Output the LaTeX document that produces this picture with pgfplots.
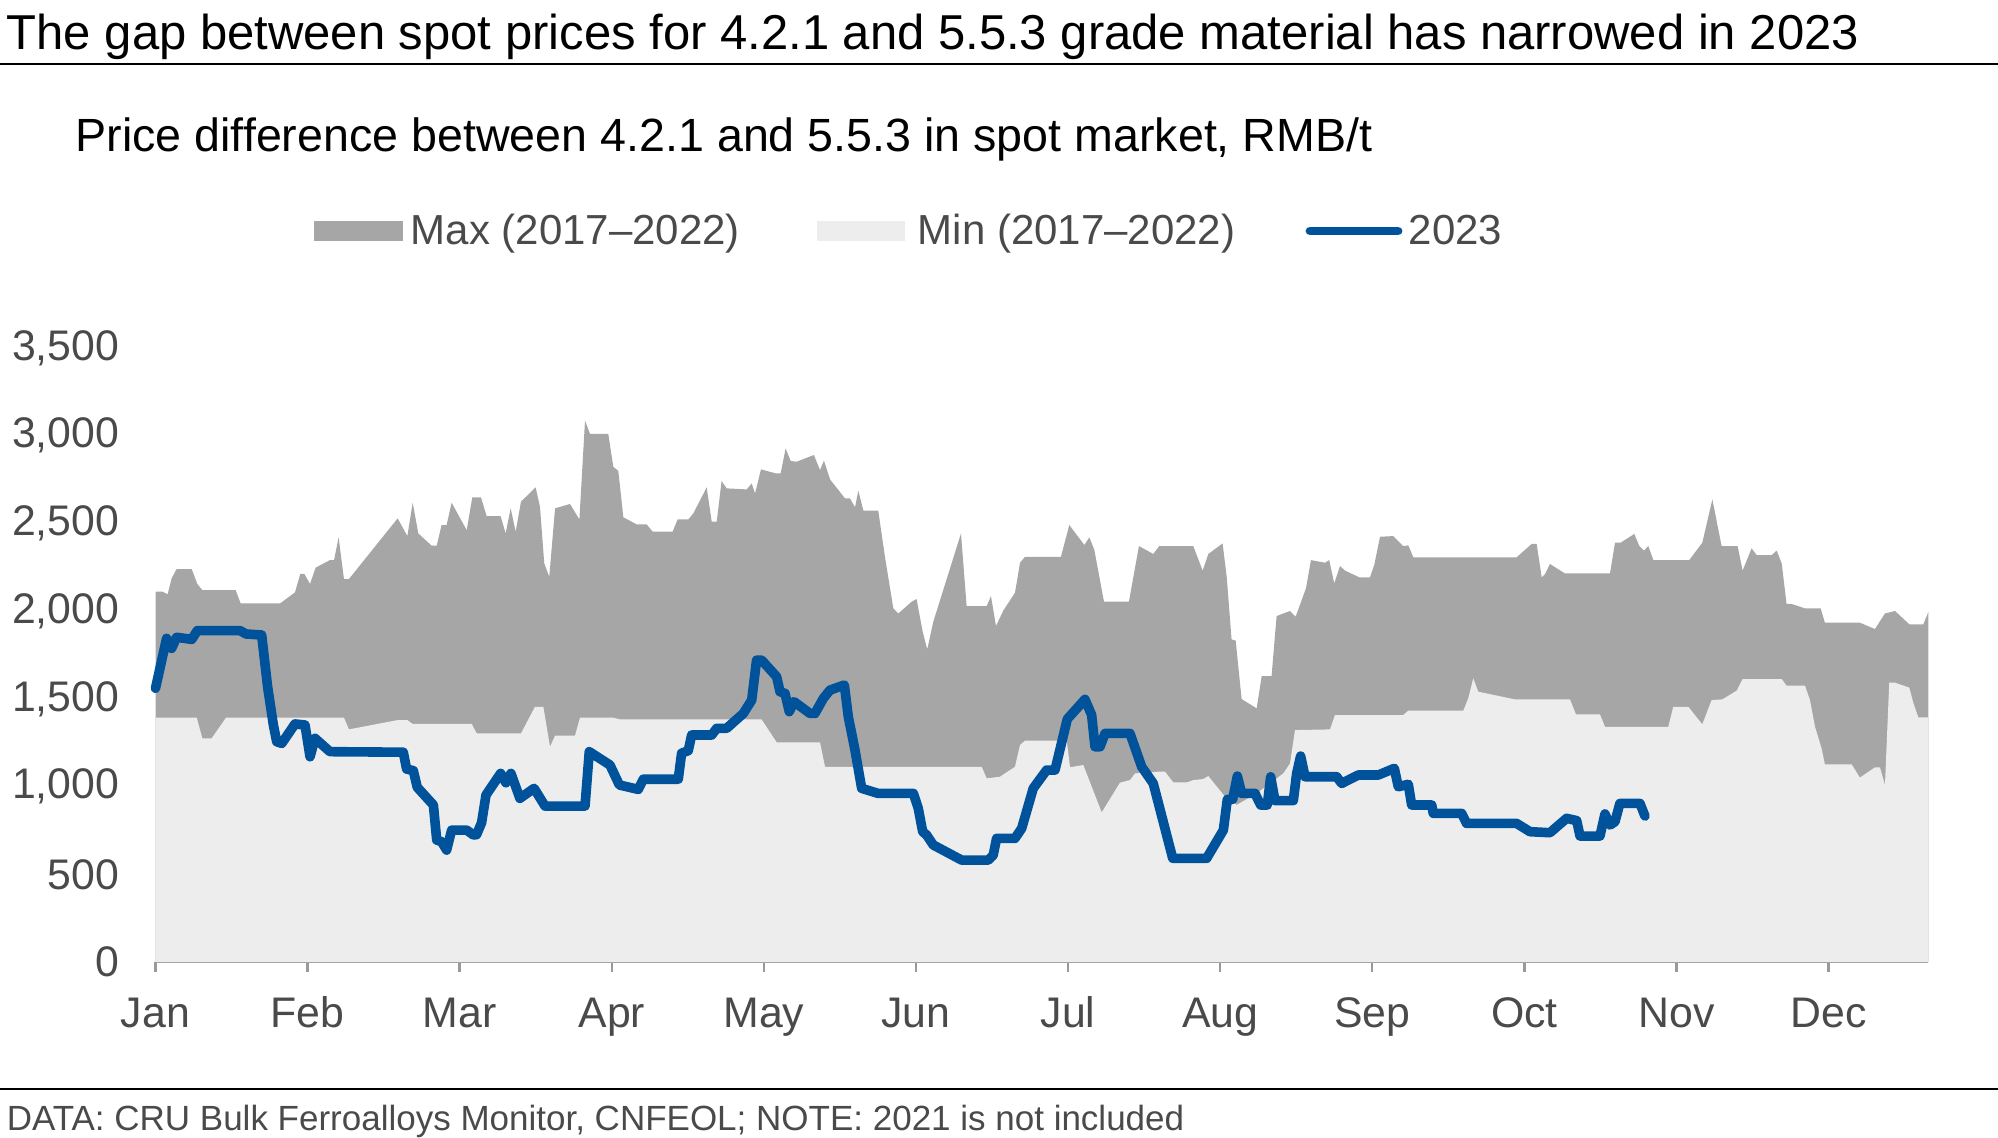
\documentclass[border=0pt]{standalone}
\usepackage{pgfplots}
\pgfplotsset{compat=1.18}
\usepackage{fontspec}
\setmainfont{Liberation Sans}
\definecolor{maxgray}{HTML}{A6A6A6}
\definecolor{mingray}{HTML}{EDEDED}
\definecolor{blue23}{HTML}{00529B}
\definecolor{txtgray}{HTML}{4A4A4A}
\definecolor{axgray}{HTML}{999999}
\begin{document}
\begin{tikzpicture}
\useasboundingbox (0pt,0pt) rectangle (499.5pt,284.25pt);
% title and subtitle
\node[anchor=base west, inner sep=0pt] at (1.5pt,271.9pt) {\fontsize{12.25}{14}\selectfont The gap between spot prices for 4.2.1 and 5.5.3 grade material has narrowed in 2023};
\draw[black, line width=0.7pt] (0pt,268.25pt) -- (499.5pt,268.25pt);
\node[anchor=base west, inner sep=0pt] at (18.7pt,246.25pt) {\fontsize{11.65}{14}\selectfont Price difference between 4.2.1 and 5.5.3 in spot market, RMB/t};
% legend
\fill[maxgray] (78.5pt,224pt) rectangle (100.75pt,229pt);
\node[anchor=base west, inner sep=0pt, text=txtgray] at (102.5pt,223pt) {\fontsize{10.5}{12}\selectfont Max (2017–2022)};
\fill[mingray] (204.25pt,224pt) rectangle (226.25pt,229pt);
\node[anchor=base west, inner sep=0pt, text=txtgray] at (229.25pt,223pt) {\fontsize{10.5}{12}\selectfont Min (2017–2022)};
\draw[blue23, line width=2.2pt, line cap=round] (327.5pt,226.5pt) -- (349.5pt,226.5pt);
\node[anchor=base west, inner sep=0pt, text=txtgray] at (352pt,223pt) {\fontsize{10.5}{12}\selectfont 2023};
% footer
\draw[black, line width=0.5pt] (0pt,12pt) -- (499.5pt,12pt);
\node[anchor=base west, inner sep=0pt, text=txtgray] at (1.5pt,1.75pt) {\fontsize{8.75}{10}\selectfont DATA: CRU Bulk Ferroalloys Monitor, CNFEOL; NOTE: 2021 is not included};
\begin{axis}[
  at={(38.875pt,43.75pt)}, anchor=south west,
  scale only axis, width=443.2pt, height=153.5pt,
  xmin=0, xmax=11.656, ymin=0, ymax=3500,
  axis x line*=bottom, axis y line*=left,
  y axis line style={draw=none},
  x axis line style={-, draw=axgray, line width=0.7pt},
  xtick={0,1,2,3,4,5,6,7,8,9,10,11},
  xticklabels={Jan,Feb,Mar,Apr,May,Jun,Jul,Aug,Sep,Oct,Nov,Dec},
  ytick={0,500,1000,1500,2000,2500,3000,3500},
  tick align=outside, major tick length=2.5pt,
  xtick style={draw=axgray, line width=0.6pt},
  ytick style={draw=none},
  /pgf/number format/assume math mode=true,
  /pgf/number format/1000 sep={,},
  tick label style={font=\fontsize{10.7}{12}\selectfont, text=txtgray},
  xticklabel style={anchor=base, inner sep=0pt, yshift=-13.75pt},
  yticklabel style={anchor=east, inner sep=0pt, xshift=-6.35pt},
  clip=false,
]
\addplot[draw=none, fill=maxgray] coordinates {
(0.000,2111)(0.047,2111)(0.080,2096)(0.106,2187)(0.139,2240)(0.238,2240)(0.275,2155)(0.308,2120)(0.527,2120)(0.560,2044)(0.819,2044)(0.917,2107)(0.952,2212)(0.979,2212)(1.016,2155)(1.053,2248)(1.147,2291)(1.174,2291)(1.204,2421)(1.239,2183)(1.272,2183)(1.592,2529)(1.656,2428)(1.691,2618)(1.728,2443)(1.816,2373)(1.849,2373)(1.881,2491)(1.914,2491)(1.947,2618)(2.046,2462)(2.083,2649)(2.140,2649)(2.177,2542)(2.269,2542)(2.302,2443)(2.335,2586)(2.368,2453)(2.403,2624)(2.499,2706)(2.528,2595)(2.556,2272)(2.589,2196)(2.627,2586)(2.725,2611)(2.787,2523)(2.824,3086)(2.857,3010)(2.977,3010)(3.010,2823)(3.043,2799)(3.076,2535)(3.163,2495)(3.229,2495)(3.269,2453)(3.400,2453)(3.433,2523)(3.503,2523)(3.536,2557)(3.624,2706)(3.657,2510)(3.690,2510)(3.722,2742)(3.755,2700)(3.887,2694)(3.920,2728)(3.942,2671)(3.981,2808)(4.080,2785)(4.110,2785)(4.143,2928)(4.176,2856)(4.215,2852)(4.329,2890)(4.369,2804)(4.395,2858)(4.435,2751)(4.533,2643)(4.566,2643)(4.599,2592)(4.621,2687)(4.654,2573)(4.752,2573)(4.796,2310)(4.851,2016)(4.884,1987)(4.972,2054)(5.004,2069)(5.044,1883)(5.074,1782)(5.114,1940)(5.296,2443)(5.333,2029)(5.465,2029)(5.493,2086)(5.526,1915)(5.574,2003)(5.651,2105)(5.684,2276)(5.717,2310)(5.953,2310)(6.008,2491)(6.107,2377)(6.140,2421)(6.173,2348)(6.236,2054)(6.400,2054)(6.466,2371)(6.560,2326)(6.600,2371)(6.823,2371)(6.885,2231)(6.922,2326)(7.016,2386)(7.043,2196)(7.075,1839)(7.102,1832)(7.141,1499)(7.240,1446)(7.273,1630)(7.338,1630)(7.371,1972)(7.459,2001)(7.496,1968)(7.564,2130)(7.597,2291)(7.689,2276)(7.717,2291)(7.750,2158)(7.788,2257)(7.821,2231)(7.915,2193)(7.985,2193)(8.013,2263)(8.051,2424)(8.138,2428)(8.204,2371)(8.237,2375)(8.270,2307)(8.949,2307)(9.048,2383)(9.081,2383)(9.114,2193)(9.136,2211)(9.168,2269)(9.267,2215)(9.563,2215)(9.596,2390)(9.632,2390)(9.723,2440)(9.756,2371)(9.786,2345)(9.815,2371)(9.848,2291)(10.084,2291)(10.170,2390)(10.236,2637)(10.297,2371)(10.402,2371)(10.435,2231)(10.494,2358)(10.527,2320)(10.626,2320)(10.659,2345)(10.692,2272)(10.724,2041)(10.757,2041)(10.845,2016)(10.948,2016)(10.976,1934)(11.206,1934)(11.305,1898)(11.371,1987)(11.437,2001)(11.531,1925)(11.623,1925)(11.656,1995)
} \closedcycle;
\addplot[draw=none, fill=mingray] coordinates {
(0.000,1393)(0.271,1393)(0.308,1275)(0.369,1275)(0.464,1393)(1.239,1393)(1.272,1326)(1.592,1379)(1.656,1379)(1.691,1357)(2.079,1357)(2.112,1303)(2.403,1303)(2.495,1455)(2.550,1455)(2.594,1227)(2.627,1290)(2.758,1290)(2.791,1393)(3.010,1393)(3.054,1383)(3.985,1383)(4.084,1252)(4.369,1252)(4.402,1113)(5.432,1113)(5.465,1047)(5.552,1056)(5.651,1113)(5.684,1237)(5.717,1262)(5.991,1262)(6.013,1110)(6.100,1123)(6.221,853)(6.341,1022)(6.407,1037)(6.440,1075)(6.593,1085)(6.637,1085)(6.692,1024)(6.780,1024)(6.824,1037)(6.889,1043)(6.922,1060)(7.032,942)(7.062,942)(7.108,895)(7.240,961)(7.415,1075)(7.459,1132)(7.492,1322)(7.722,1326)(7.755,1408)(8.204,1408)(8.237,1433)(8.599,1433)(8.631,1503)(8.664,1617)(8.697,1541)(8.938,1497)(9.300,1497)(9.339,1412)(9.497,1412)(9.530,1341)(9.946,1341)(9.979,1455)(10.078,1455)(10.170,1355)(10.231,1493)(10.302,1497)(10.396,1547)(10.435,1613)(10.692,1613)(10.724,1575)(10.845,1575)(10.878,1493)(10.911,1341)(10.954,1218)(10.976,1127)(11.152,1127)(11.206,1051)(11.305,1110)(11.338,1110)(11.371,1009)(11.399,1592)(11.437,1592)(11.531,1564)(11.557,1478)(11.590,1395)(11.656,1395)
} \closedcycle;
\addplot[blue23, line width=2.4pt, line join=round, line cap=round] coordinates {
(0.000,1560)(0.073,1845)(0.106,1788)(0.139,1851)(0.238,1839)(0.275,1889)(0.556,1889)(0.595,1870)(0.698,1864)(0.737,1569)(0.775,1351)(0.797,1256)(0.830,1246)(0.917,1357)(0.983,1351)(1.016,1170)(1.049,1275)(1.147,1199)(1.629,1196)(1.651,1100)(1.695,1091)(1.721,996)(1.827,895)(1.849,695)(1.881,686)(1.914,638)(1.947,752)(2.046,752)(2.090,724)(2.111,726)(2.144,794)(2.173,952)(2.269,1075)(2.304,1022)(2.337,1075)(2.396,933)(2.489,990)(2.561,889)(2.824,889)(2.852,1199)(2.988,1123)(3.050,1009)(3.174,984)(3.207,1042)(3.437,1042)(3.459,1190)(3.503,1205)(3.525,1294)(3.657,1294)(3.690,1332)(3.755,1332)(3.865,1417)(3.920,1493)(3.952,1721)(3.985,1721)(4.084,1626)(4.106,1541)(4.139,1531)(4.167,1427)(4.198,1484)(4.303,1417)(4.336,1417)(4.391,1503)(4.435,1550)(4.529,1579)(4.555,1398)(4.599,1208)(4.643,990)(4.752,961)(4.983,961)(5.015,876)(5.044,743)(5.070,724)(5.114,667)(5.300,581)(5.476,581)(5.508,610)(5.530,705)(5.651,705)(5.695,762)(5.771,990)(5.859,1094)(5.914,1094)(5.995,1385)(6.111,1497)(6.155,1408)(6.177,1227)(6.210,1227)(6.243,1303)(6.407,1303)(6.484,1113)(6.560,1018)(6.688,591)(6.911,591)(7.021,752)(7.047,927)(7.082,927)(7.113,1060)(7.141,961)(7.229,961)(7.266,895)(7.310,895)(7.332,1056)(7.360,920)(7.481,920)(7.503,1075)(7.529,1174)(7.558,1056)(7.766,1056)(7.799,1018)(7.908,1066)(8.040,1066)(8.145,1104)(8.171,999)(8.237,1013)(8.259,895)(8.391,895)(8.401,847)(8.588,847)(8.620,790)(8.949,790)(9.037,743)(9.168,737)(9.278,819)(9.344,806)(9.366,718)(9.497,718)(9.530,844)(9.563,781)(9.596,800)(9.628,904)(9.760,904)(9.793,832)
};
\end{axis}
\end{tikzpicture}
\end{document}
